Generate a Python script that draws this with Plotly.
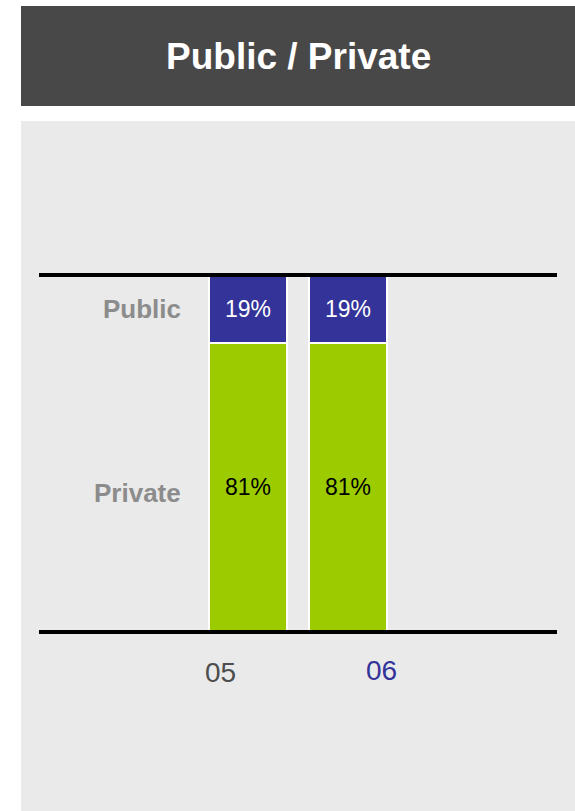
import plotly.graph_objects as go

categories = ["05", "06"]
private_vals = [81, 81]
public_vals = [19, 19]
series_names = ["Private", "Public"]
title_text = "Public / Private"

NAVY = "#333399"
GREEN = "#9ccc00"
FONT = "Liberation Sans, Arial, sans-serif"

fig = go.Figure()
fig.add_trace(go.Bar(
    x=[0, 1], y=private_vals, name=series_names[0],
    marker=dict(color=GREEN, line=dict(color="white", width=2.5)),
    text=[f"{v}%" for v in private_vals], textposition="inside",
    insidetextanchor="middle",
    textfont=dict(color="black", size=23, family=FONT),
    width=0.78,
))
fig.add_trace(go.Bar(
    x=[0, 1], y=public_vals, name=series_names[1],
    marker=dict(color=NAVY, line=dict(color="white", width=2.5)),
    text=[f"{v}%" for v in public_vals], textposition="inside",
    insidetextanchor="middle",
    textfont=dict(color="white", size=23, family=FONT),
    width=0.78,
))

W, H = 575, 811
L, R, T, B = 39, 18, 275, 179
PW, PH = W - L - R, H - T - B

def px(xpix):
    return (xpix - L) / PW

def py(ypix):
    return ((H - B) - ypix) / PH

fig.update_layout(
    width=W, height=H,
    barmode="stack",
    showlegend=False,
    paper_bgcolor="white",
    plot_bgcolor="rgba(0,0,0,0)",
    margin=dict(l=L, r=R, t=T, b=B, pad=0),
    uniformtext=dict(mode=False),
    xaxis=dict(range=[-2.09, 3.09], showticklabels=False, showgrid=False,
               zeroline=False, showline=False, fixedrange=True),
    yaxis=dict(range=[0, 100], showticklabels=False, showgrid=False,
               zeroline=False, showline=False, fixedrange=True),
    font=dict(family=FONT),
)

shapes = [
    # gray panel
    dict(type="rect", xref="paper", yref="paper", layer="below",
         x0=px(21), x1=px(576), y0=py(812), y1=py(121),
         fillcolor="#eaeaea", line=dict(width=0)),
    # header box
    dict(type="rect", xref="paper", yref="paper", layer="below",
         x0=px(21), x1=px(576), y0=py(106), y1=py(6),
         fillcolor="#484848", line=dict(width=0)),
    # top and bottom rules
    dict(type="line", xref="paper", yref="paper", layer="above",
         x0=0, x1=1, y0=1, y1=1, line=dict(color="black", width=4)),
    dict(type="line", xref="paper", yref="paper", layer="above",
         x0=0, x1=1, y0=0, y1=0, line=dict(color="black", width=4)),
]
fig.update_layout(shapes=shapes)

annotations = [
    dict(text=f"<b>{title_text}</b>", xref="paper", yref="paper",
         x=px(298), y=py(57),
         xanchor="center", yanchor="middle", showarrow=False,
         font=dict(color="white", size=37, family=FONT)),
    dict(text=f"<b>{series_names[1]}</b>", xref="paper", yref="y",
         x=px(183), y=private_vals[0] + public_vals[0] / 2,
         xanchor="right", yanchor="middle", showarrow=False,
         font=dict(color="#8c8c8c", size=26, family=FONT)),
    dict(text=f"<b>{series_names[0]}</b>", xref="paper", yref="y",
         x=px(183), y=private_vals[0] / 2, yshift=-6,
         xanchor="right", yanchor="middle", showarrow=False,
         font=dict(color="#8c8c8c", size=26, family=FONT)),
    dict(text=categories[0], xref="x", yref="y", x=0, y=0, xshift=-28, yshift=-40,
         xanchor="center", yanchor="middle", showarrow=False,
         font=dict(color="#4d4d4d", size=28, family=FONT)),
    dict(text=categories[1], xref="x", yref="y", x=1, y=0, xshift=33, yshift=-38,
         xanchor="center", yanchor="middle", showarrow=False,
         font=dict(color=NAVY, size=28, family=FONT)),
]
fig.update_layout(annotations=annotations)

fig.write_html("out.html", config=dict(displayModeBar=False),
               post_script="document.body.style.margin='0';document.body.style.overflow='hidden';")
